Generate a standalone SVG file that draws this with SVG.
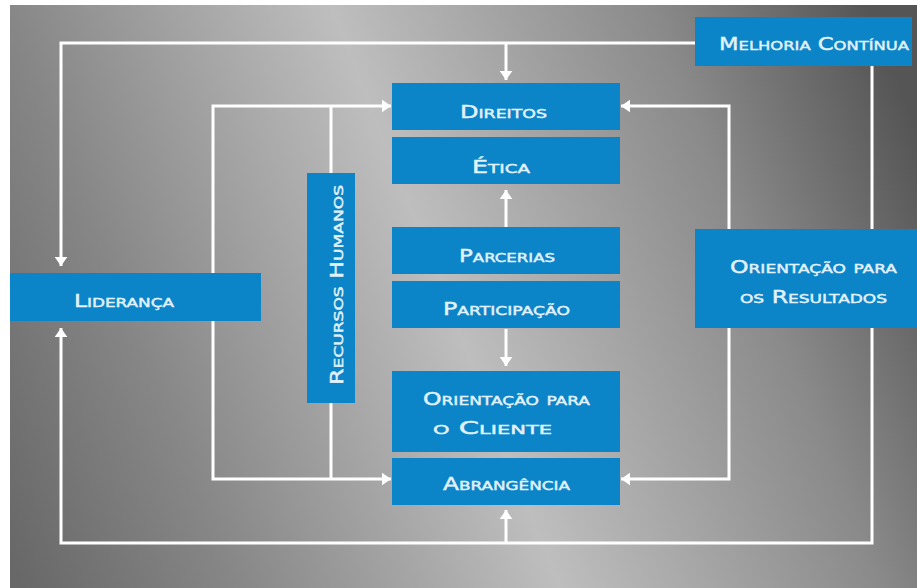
<svg xmlns="http://www.w3.org/2000/svg" width="917" height="588" viewBox="0 0 917 588">
<defs>
<linearGradient id="bg" gradientUnits="userSpaceOnUse" x1="-20" y1="479" x2="910" y2="113">
<stop offset="0" stop-color="#686868"/>
<stop offset="0.2" stop-color="#878787"/>
<stop offset="0.5" stop-color="#bebebe"/>
<stop offset="0.8" stop-color="#8a8a8a"/>
<stop offset="1" stop-color="#555555"/>
</linearGradient>
<marker id="ah" viewBox="0 0 10 14" refX="10" refY="7" markerWidth="9" markerHeight="14" markerUnits="userSpaceOnUse" orient="auto">
<path d="M0,0 L10,7 L0,14 Z" fill="#ffffff"/>
</marker>
<style>
.box{fill:#0b84c8}
.t{font-family:"DejaVu Sans","Liberation Sans",sans-serif;font-variant:small-caps;fill:#e2f2fb;stroke:#e2f2fb;stroke-width:0.45;font-size:18px}
.c{stroke:#ffffff;stroke-width:3;fill:none}
.a{stroke:#ffffff;stroke-width:3;fill:none;marker-end:url(#ah)}
</style>
</defs>
<rect x="0" y="0" width="917" height="588" fill="#ffffff"/>
<rect x="10" y="5" width="907" height="583" fill="url(#bg)"/>
<g id="connectors">
<path class="a" d="M695,43 H61 V266"/>
<path class="a" d="M506,43 V80"/>
<path class="a" d="M872,66 V543 H61 V328"/>
<path class="a" d="M506,543 V510"/>
<path class="a" d="M213,292 V106 H391"/>
<path class="a" d="M213,292 V479 H391"/>
<path class="c" d="M331,106 V173"/>
<path class="c" d="M331,403 V479"/>
<path class="a" d="M729,292 V106 H621"/>
<path class="a" d="M729,292 V479 H621"/>
<path class="a" d="M506,227 V190"/>
<path class="a" d="M506,329 V366"/>
</g>
<g id="melhoria"><rect class="box" x="695" y="17" width="217" height="49"/><text class="t" x="719" y="50" font-size="19.5" textLength="190" lengthAdjust="spacingAndGlyphs">Melhoria Contínua</text></g>
<g id="direitos"><rect class="box" x="392" y="83" width="228" height="47"/><text class="t" x="460" y="118" font-size="20" textLength="87" lengthAdjust="spacingAndGlyphs">Direitos</text></g>
<g id="etica"><rect class="box" x="392" y="137" width="228" height="47"/><text class="t" x="472" y="173" textLength="58" lengthAdjust="spacingAndGlyphs">Ética</text></g>
<g id="parcerias"><rect class="box" x="392" y="227" width="228" height="47"/><text class="t" x="459" y="262" textLength="96" lengthAdjust="spacingAndGlyphs">Parcerias</text></g>
<g id="participacao"><rect class="box" x="392" y="281" width="228" height="47"/><text class="t" x="443" y="315" textLength="127" lengthAdjust="spacingAndGlyphs">Participação</text></g>
<g id="orientacao-cliente"><rect class="box" x="392" y="371" width="228" height="81"/><text class="t" x="423" y="405" textLength="167" lengthAdjust="spacingAndGlyphs">Orientação para</text><text class="t" x="433" y="434" textLength="119" lengthAdjust="spacingAndGlyphs">o Cliente</text></g>
<g id="abrangencia"><rect class="box" x="392" y="458" width="228" height="47"/><text class="t" x="443" y="490" textLength="127" lengthAdjust="spacingAndGlyphs">Abrangência</text></g>
<g id="lideranca"><rect class="box" x="10" y="273" width="251" height="48"/><text class="t" x="74" y="307" font-size="20" textLength="100" lengthAdjust="spacingAndGlyphs">Liderança</text></g>
<g id="recursos-humanos"><rect class="box" x="307" y="173" width="48" height="230"/><text class="t" transform="translate(343,385) rotate(-90)" x="0" y="0" font-size="25" textLength="200" lengthAdjust="spacingAndGlyphs">Recursos Humanos</text></g>
<g id="orientacao-resultados"><rect class="box" x="695" y="229" width="222" height="99"/><text class="t" x="730" y="273" textLength="167" lengthAdjust="spacingAndGlyphs">Orientação para</text><text class="t" x="740" y="303" textLength="147" lengthAdjust="spacingAndGlyphs">os Resultados</text></g>
</svg>
